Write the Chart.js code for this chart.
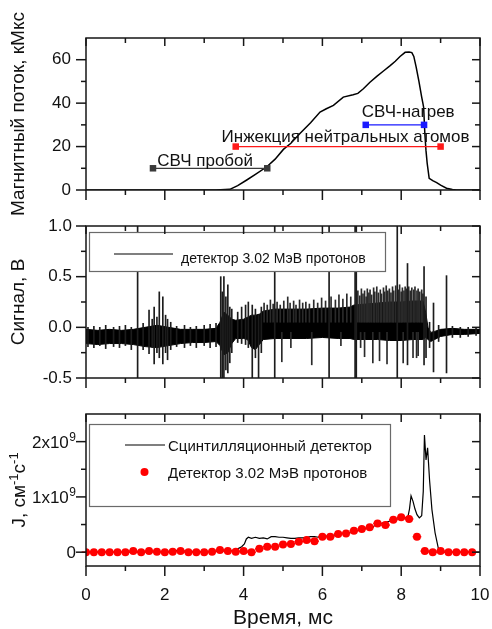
<!DOCTYPE html>
<html><head><meta charset="utf-8">
<script src="https://cdn.jsdelivr.net/npm/chart.js@4.4.1/dist/chart.umd.min.js"></script>
<style>
html,body{margin:0;padding:0;background:#fff;overflow:hidden;}
#wrap{position:relative;width:492px;height:629px;overflow:hidden;background:#fff;}
canvas{position:absolute;left:0;display:block;}
</style></head><body>
<div id="wrap">
<canvas id="c1" width="492" height="228" style="top:0;width:492px;height:228px"></canvas>
<canvas id="c2" width="492" height="190" style="top:210px;width:492px;height:190px"></canvas>
<canvas id="c3" width="492" height="229" style="top:400px;width:492px;height:229px"></canvas>
</div>
<script>
// ---------- DATA ----------
const xTicks = [0, 2, 4, 6, 8, 10];
const xMinorTicks = [1, 3, 5, 7, 9];
const xTickLabels = ['0', '2', '4', '6', '8', '10'];
const xTitle = 'Время, мс';

// Panel 1: magnetic flux, kMx
const fluxT = [0, 3.3, 3.65, 3.85, 4.08, 4.3, 4.59, 4.8, 5.01, 5.2, 5.43, 5.7, 5.94, 6.1, 6.28, 6.53, 6.78, 6.9, 7.04, 7.2, 7.38, 7.55, 7.72, 7.85, 7.97, 8.1, 8.2, 8.27, 8.32, 8.38, 8.45, 8.52, 8.55, 8.57, 8.6, 8.63, 8.66, 8.71, 8.8, 8.9, 9.0, 9.15, 9.3, 9.4, 10];
const fluxV = [0, 0, 0.3, 2.0, 4.6, 7.2, 10.7, 14.2, 18.7, 21.5, 26, 31, 35.9, 37.4, 39, 42.8, 43.9, 44.5, 46.6, 49.5, 52.3, 54.8, 57.3, 59.3, 61.5, 63.4, 63.6, 63.3, 61.5, 56.6, 50, 42.8, 40, 38, 26, 18, 12.2, 5.4, 4.3, 3.4, 2.2, 0.8, 0.2, 0, 0];
const fluxTicks = [0, 20, 40, 60];
const fluxMinorTicks = [10, 30, 50];
const fluxTickLabels = ['0', '20', '40', '60'];
const fluxTitle = 'Магнитный поток, кМкс';
const intervalNames = ['СВЧ пробой', 'Инжекция нейтральных атомов', 'СВЧ-нагрев'];
const intervalStart = [1.7, 3.8, 7.1];
const intervalEnd = [4.6, 9.0, 8.58];
const intervalLevel = [10, 20, 30];

// Panel 2: detector signal, V — dense envelope of the noise
const sigT  = [0, 0.3, 0.6, 0.9, 1.2, 1.5, 1.8, 2.1, 2.4, 2.7, 3.0, 3.3, 3.4, 3.5, 3.6, 3.7, 3.8, 4.0, 4.1, 4.2, 4.3, 4.4, 4.5, 4.8, 5.2, 5.6, 6.0, 6.4, 6.7, 6.8, 7.1, 7.4, 7.7, 8.0, 8.3, 8.55, 8.62, 8.68, 8.75, 8.85, 9.0, 9.3, 9.6, 10];
const sigHi = [-0.02, -0.03, -0.02, -0.03, -0.02, 0.0, 0.02, 0.0, -0.02, -0.02, -0.02, -0.01, 0.05, 0.15, 0.12, 0.08, 0.07, 0.08, 0.1, 0.12, 0.12, 0.13, 0.16, 0.18, 0.18, 0.18, 0.19, 0.19, 0.2, 0.22, 0.23, 0.24, 0.25, 0.25, 0.26, 0.26, 0.15, 0.0, -0.05, -0.04, -0.02, -0.01, -0.02, -0.02];
const sigLo = [-0.16, -0.17, -0.16, -0.16, -0.17, -0.19, -0.2, -0.18, -0.16, -0.15, -0.15, -0.14, -0.18, -0.27, -0.25, -0.16, -0.11, -0.11, -0.12, -0.2, -0.22, -0.17, -0.12, -0.11, -0.11, -0.11, -0.1, -0.11, -0.11, -0.12, -0.12, -0.12, -0.13, -0.13, -0.12, -0.12, -0.1, -0.12, -0.14, -0.12, -0.09, -0.07, -0.07, -0.06];
// bursts (both directions)
const burstT  = [0.05, 0.2, 0.35, 0.5, 0.7, 0.85, 1.0, 1.15, 1.31, 1.45, 1.6, 1.68, 1.73, 1.8, 1.86, 1.95, 2.02, 2.07, 2.15, 2.3, 2.5, 2.65, 2.8, 3.0, 3.15, 3.3, 3.42, 3.46, 3.5, 3.55, 3.6, 3.65, 3.7, 3.85, 3.95, 4.05, 4.12, 4.22, 4.3, 4.38, 4.45, 4.79, 6.17, 6.83, 6.86, 7.9, 8.16, 8.58, 8.63, 8.72, 8.82, 8.95, 9.15, 9.3, 9.5, 9.7, 9.9];
const burstLo = [-0.19, -0.2, -0.18, -0.21, -0.19, -0.2, -0.18, -0.22, -0.5, -0.22, -0.26, -0.2, -0.36, -0.25, -0.3, -0.36, -0.25, -0.32, -0.22, -0.19, -0.2, -0.18, -0.2, -0.18, -0.2, -0.19, -0.5, -0.5, -0.5, -0.42, -0.45, -0.35, -0.25, -0.15, -0.16, -0.17, -0.2, -0.5, -0.3, -0.5, -0.25, -0.5, -0.5, -0.5, -0.5, -0.5, -0.37, -0.37, -0.3, -0.2, -0.44, -0.14, -0.45, -0.1, -0.1, -0.09, -0.08];
const burstHi = [0.0, 0.01, 0.0, 0.02, 0.0, 0.01, 0.02, 0.0, 1.0, 0.04, 0.17, 0.08, 0.2, 0.1, 0.35, 0.3, 0.12, 0.08, 0.05, 0.01, 0.02, 0.0, 0.01, 0.02, 0.03, 0.04, 0.5, 0.35, 0.5, 0.3, 0.42, 0.2, 0.18, 0.15, 0.2, 0.22, 0.25, 0.22, 0.18, 0.12, 0.2, 1.0, 1.0, 1.0, 1.0, 1.0, 0.63, 0.6, 0.3, 0.05, 0.24, 0.02, 0.51, 0.01, 0.0, 0.0, -0.01];
// upward spikes rising out of the dense band
const grassT  = [4.52, 4.6, 4.68, 4.75, 4.85, 4.93, 5.02, 5.12, 5.18, 5.27, 5.33, 5.42, 5.5, 5.58, 5.67, 5.78, 5.88, 5.98, 6.08, 6.22, 6.33, 6.42, 6.52, 6.62, 6.72, 6.9, 6.95, 6.99, 7.03, 7.07, 7.11, 7.14, 7.18, 7.21, 7.25, 7.3, 7.33, 7.38, 7.42, 7.47, 7.5, 7.55, 7.58, 7.62, 7.66, 7.7, 7.74, 7.78, 7.81, 7.86, 7.93, 7.96, 8.0, 8.03, 8.07, 8.1, 8.14, 8.19, 8.23, 8.27, 8.32, 8.35, 8.4, 8.43, 8.47, 8.52, 8.55];
const grassHi = [0.24, 0.22, 0.27, 0.23, 0.25, 0.22, 0.26, 0.3, 0.24, 0.26, 0.22, 0.27, 0.24, 0.25, 0.23, 0.27, 0.24, 0.29, 0.26, 0.3, 0.27, 0.32, 0.28, 0.33, 0.3, 0.36, 0.31, 0.38, 0.33, 0.36, 0.3, 0.38, 0.34, 0.37, 0.32, 0.39, 0.35, 0.4, 0.34, 0.37, 0.33, 0.39, 0.35, 0.41, 0.36, 0.38, 0.34, 0.4, 0.36, 0.41, 0.37, 0.42, 0.35, 0.39, 0.36, 0.4, 0.38, 0.4, 0.36, 0.39, 0.37, 0.4, 0.36, 0.38, 0.35, 0.37, 0.33];
// downward spikes falling out of the dense band
const dipT  = [4.97, 5.2, 5.73, 6.47, 6.97, 7.07, 7.28, 7.45, 7.64, 8.05, 8.3, 8.39, 8.43];
const dipLo = [-0.34, -0.2, -0.37, -0.18, -0.2, -0.29, -0.35, -0.33, -0.36, -0.35, -0.3, -0.3, -0.28];
const sigTicks = [-0.5, 0, 0.5, 1.0];
const sigMinorTicks = [-0.25, 0.25, 0.75];
const sigTickLabels = ['-0.5', '0.0', '0.5', '1.0'];
const sigTitle = 'Сигнал, В';
const sigLegend = 'детектор 3.02 МэВ протонов';

// Panel 3: J, in units of 10^9 cm^-1 s^-1
const scintT = [0, 1.0, 2.0, 2.2, 2.4, 2.5, 2.8, 3.0, 3.4, 3.7, 3.85, 3.95, 4.02, 4.07, 4.12, 4.2, 4.3, 4.4, 4.5, 4.6, 4.7, 4.8, 4.9, 5.0, 5.1, 5.2, 5.3, 5.4, 5.5, 5.6, 5.7, 5.8, 5.9, 6.0, 6.1, 6.2, 6.3, 6.4, 6.5, 6.6, 6.7, 6.8, 6.9, 7.0, 7.1, 7.2, 7.3, 7.4, 7.5, 7.6, 7.7, 7.8, 7.9, 8.0, 8.1, 8.17, 8.21, 8.25, 8.3, 8.35, 8.4, 8.46, 8.52, 8.56, 8.59, 8.63, 8.67, 8.72, 8.78, 8.86, 8.94, 8.98, 10];
const scintV = [0, 0, 0.01, 0.02, 0.04, 0.02, 0.01, 0.01, 0.02, 0.03, 0.06, 0.1, 0.15, 0.24, 0.27, 0.25, 0.27, 0.25, 0.26, 0.24, 0.28, 0.28, 0.27, 0.27, 0.26, 0.25, 0.25, 0.26, 0.26, 0.27, 0.28, 0.28, 0.27, 0.28, 0.29, 0.3, 0.31, 0.33, 0.34, 0.35, 0.36, 0.38, 0.39, 0.41, 0.43, 0.45, 0.47, 0.5, 0.52, 0.54, 0.56, 0.58, 0.6, 0.62, 0.62, 0.64, 0.78, 1.02, 0.92, 0.78, 0.68, 0.62, 0.66, 1.1, 2.12, 1.67, 1.89, 1.3, 0.77, 0.35, 0.08, 0, 0];
const protonT = [0, 0.2, 0.4, 0.6, 0.8, 1.0, 1.2, 1.4, 1.6, 1.8, 2.0, 2.2, 2.4, 2.6, 2.8, 3.0, 3.2, 3.4, 3.6, 3.8, 4.0, 4.2, 4.4, 4.6, 4.8, 5.0, 5.2, 5.4, 5.6, 5.8, 6.0, 6.2, 6.4, 6.6, 6.8, 7.0, 7.2, 7.4, 7.6, 7.8, 8.0, 8.2, 8.4, 8.6, 8.8, 9.0, 9.2, 9.4, 9.6, 9.8];
const protonV = [0, 0, 0, 0, 0, 0, 0.02, 0, 0.02, 0.01, 0, 0.01, 0.02, 0, 0, 0, 0.01, 0.04, 0.02, 0.01, 0.02, 0, 0.06, 0.1, 0.1, 0.14, 0.15, 0.19, 0.22, 0.2, 0.28, 0.28, 0.33, 0.34, 0.39, 0.42, 0.45, 0.52, 0.49, 0.585, 0.63, 0.6, 0.28, 0.02, 0, 0.02, 0, 0, 0, 0];
const protonTErr = 0.11;
const jTicks = [0, 1, 2];
const jMinorTicks = [0.5, 1.5];
const jTickBase = ['0', '1x10', '2x10'];
const jTickExp = ['', '9', '9'];
const jTitleParts = ['J, см', '-1', 'с', '-1'];   // even index: normal text, odd index: superscript
const jLegend = ['Сцинтилляционный детектор', 'Детектор 3.02 МэВ протонов'];

// ---------- RENDERING ----------
const FONT = "'Liberation Sans', Arial, Helvetica, sans-serif";
Chart.defaults.font.family = FONT;
Chart.defaults.color = '#111';
const pts = (xs, ys) => xs.map((x, i) => ({x: x, y: ys[i]}));

const frameTicks = {
  id: 'frameTicks',
  afterDraw(chart, args, o) {
    const {ctx, chartArea: a, scales} = chart;
    const sx = scales.x, sy = scales.y;
    ctx.save();
    ctx.strokeStyle = '#161616';
    ctx.lineWidth = 1.5;
    const seg = (x1, y1, x2, y2) => { ctx.beginPath(); ctx.moveTo(x1, y1); ctx.lineTo(x2, y2); ctx.stroke(); };
    ctx.strokeRect(a.left, a.top, a.right - a.left, a.bottom - a.top);
    o.xMajor.forEach(v => { const p = sx.getPixelForValue(v); seg(p, a.bottom, p, a.bottom + 10); seg(p, a.top, p, a.top + 8); });
    o.xMinor.forEach(v => { const p = sx.getPixelForValue(v); seg(p, a.bottom, p, a.bottom + 5); seg(p, a.top, p, a.top + 5); });
    o.yMajor.forEach(v => { const p = sy.getPixelForValue(v); seg(a.left - 10, p, a.left, p); seg(a.right - 8, p, a.right, p); });
    o.yMinor.forEach(v => { const p = sy.getPixelForValue(v); seg(a.left - 5, p, a.left, p); seg(a.right - 5, p, a.right, p); });
    ctx.restore();
  }
};

const legendBox = {
  id: 'legendBox',
  afterDatasetsDraw(chart, args, o) {
    if (!o || !o.box) return;
    const ctx = chart.ctx;
    const [l, t, r, b] = o.box;
    ctx.save();
    ctx.fillStyle = '#fff';
    ctx.fillRect(l, t, r - l, b - t);
    ctx.strokeStyle = '#6a6a6a';
    ctx.lineWidth = 1.2;
    ctx.strokeRect(l, t, r - l, b - t);
    o.items.forEach(it => {
      if (it.kind === 'line') {
        ctx.strokeStyle = '#000'; ctx.lineWidth = 1.2;
        ctx.beginPath(); ctx.moveTo(it.x1, it.y); ctx.lineTo(it.x2, it.y); ctx.stroke();
      } else {
        ctx.fillStyle = '#ff0000';
        ctx.beginPath(); ctx.arc(it.cx, it.y, 4, 0, Math.PI * 2); ctx.fill();
      }
      ctx.fillStyle = '#111';
      ctx.font = it.size + 'px ' + FONT;
      ctx.textBaseline = 'alphabetic';
      ctx.textAlign = 'left';
      ctx.fillText(it.text, it.tx, it.ty);
    });
    ctx.restore();
  }
};

const intervalLabels = {
  id: 'intervalLabels',
  afterDatasetsDraw(chart, args, o) {
    if (!o || !o.items) return;
    const ctx = chart.ctx, sx = chart.scales.x, sy = chart.scales.y;
    ctx.save();
    ctx.fillStyle = '#111';
    ctx.font = '17px ' + FONT;
    ctx.textBaseline = 'alphabetic';
    o.items.forEach(it => ctx.fillText(it.text, sx.getPixelForValue(it.x), sy.getPixelForValue(it.y)));
    ctx.restore();
  }
};

const errorBars = {
  id: 'errorBars',
  afterDatasetsDraw(chart, args, o) {
    if (!o || !o.on) return;
    const ctx = chart.ctx, sx = chart.scales.x, sy = chart.scales.y;
    ctx.save();
    ctx.strokeStyle = '#ff0000'; ctx.lineWidth = 1.5;
    protonT.forEach((t, i) => {
      const y = sy.getPixelForValue(protonV[i]);
      ctx.beginPath();
      ctx.moveTo(sx.getPixelForValue(t - protonTErr), y);
      ctx.lineTo(sx.getPixelForValue(t + protonTErr), y);
      ctx.stroke();
    });
    ctx.restore();
  }
};

// tick labels with superscript exponent and the J axis title (panel 3)
const supLabels = {
  id: 'supLabels',
  afterDraw(chart, args, o) {
    if (!o || !o.on) return;
    const ctx = chart.ctx, sy = chart.scales.y, a = chart.chartArea;
    ctx.save();
    ctx.fillStyle = '#111';
    ctx.textBaseline = 'alphabetic';
    ctx.textAlign = 'right';
    jTicks.forEach((v, i) => {
      const p = sy.getPixelForValue(v);
      let x = 76;
      if (jTickExp[i]) {
        ctx.font = '12px ' + FONT;
        ctx.fillText(jTickExp[i], x, p - 1);
        x -= ctx.measureText(jTickExp[i]).width + 0.5;
      }
      ctx.font = '17px ' + FONT;
      ctx.fillText(jTickBase[i], x, p + 6);
    });
    ctx.translate(25, (a.top + a.bottom) / 2);
    ctx.rotate(-Math.PI / 2);
    ctx.textAlign = 'left';
    const fs = i => (i % 2 ? 13 : 19);
    let total = 0;
    jTitleParts.forEach((s, i) => { ctx.font = fs(i) + 'px ' + FONT; total += ctx.measureText(s).width; });
    let x = -total / 2;
    jTitleParts.forEach((s, i) => {
      ctx.font = fs(i) + 'px ' + FONT;
      ctx.fillText(s, x, i % 2 ? -7 : 0);
      x += ctx.measureText(s).width;
    });
    ctx.restore();
  }
};

function makeOptions(c) {
  return {
    responsive: false, maintainAspectRatio: false, animation: false, events: [], devicePixelRatio: 1,
    layout: {padding: {left: 0, right: 12, top: c.padTop, bottom: 0}},
    plugins: {
      legend: {display: false}, tooltip: {enabled: false},
      frameTicks: {xMajor: xTicks, xMinor: xMinorTicks, yMajor: c.yMajor, yMinor: c.yMinor},
      legendBox: c.legend || {},
      intervalLabels: c.labels || {},
      errorBars: {on: !!c.err},
      supLabels: {on: !!c.sup}
    },
    scales: {
      x: {
        type: 'linear', min: 0, max: 10, offset: false,
        grid: {display: false, drawTicks: false}, border: {display: false},
        afterBuildTicks: s => { s.ticks = xTicks.map(v => ({value: v})); },
        afterFit: s => { s.height = c.xH; s.paddingLeft = 0; s.paddingRight = 0; s.paddingTop = 0; s.paddingBottom = 0; },
        ticks: {display: c.showX, font: {size: 17}, padding: 19, color: '#111', maxRotation: 0, autoSkip: false,
                callback: (v, i) => xTickLabels[i]},
        title: {display: c.showX, text: xTitle, font: {size: 21, lineHeight: 1.0}, padding: {top: 0, bottom: 0}, color: '#111'}
      },
      y: {
        type: 'linear', min: c.yMin, max: c.yMax,
        grid: {display: false, drawTicks: false}, border: {display: false},
        afterBuildTicks: s => { s.ticks = c.yMajor.map(v => ({value: v})); },
        afterFit: s => { s.width = 86; s.paddingLeft = 0; s.paddingRight = 0; s.paddingTop = 0; s.paddingBottom = 0; },
        ticks: {display: !c.sup, font: {size: 17}, padding: c.yPad, color: '#111', autoSkip: false,
                callback: (v, i) => (c.yLabels ? c.yLabels[i] : '')},
        title: {display: !c.sup, text: c.yTitle || '', font: {size: 19}, padding: {top: 7, bottom: 0}, color: '#111'}
      }
    }
  };
}

const intervalColors = ['#3a3a3a', '#ff1a1a', '#1a1aff'];

new Chart(document.getElementById('c1'), {
  type: 'line',
  data: {datasets: [
    {data: pts(fluxT, fluxV), borderColor: '#000', borderWidth: 1.5, pointRadius: 0, tension: 0, order: 2},
    ...intervalNames.map((n, i) => ({
      data: [{x: intervalStart[i], y: intervalLevel[i]}, {x: intervalEnd[i], y: intervalLevel[i]}],
      borderColor: intervalColors[i], backgroundColor: intervalColors[i], borderWidth: 1.2,
      pointStyle: 'rect', pointRadius: 4.6, pointBorderWidth: 0, order: 1
    }))
  ]},
  options: makeOptions({padTop: 38, xH: 38, showX: false, yMin: 0, yMax: 70, yMajor: fluxTicks, yMinor: fluxMinorTicks,
    yLabels: fluxTickLabels, yPad: 15, yTitle: fluxTitle,
    labels: {items: [
      {text: intervalNames[0], x: 1.81, y: 11.0},
      {text: intervalNames[1], x: 3.44, y: 22.2},
      {text: intervalNames[2], x: 7.0, y: 33.6}
    ]}}),
  plugins: [frameTicks, legendBox, intervalLabels]
});

new Chart(document.getElementById('c2'), {
  type: 'line',
  data: {datasets: [
    {data: pts(sigT, sigHi), borderColor: '#000', borderWidth: 1, backgroundColor: '#000', fill: '+1', pointRadius: 0, tension: 0, order: 3},
    {data: pts(sigT, sigLo), borderColor: '#000', borderWidth: 1, fill: false, pointRadius: 0, tension: 0, order: 3},
    {type: 'bar', data: burstT.map((t, i) => ({x: t, y: [burstLo[i], burstHi[i]]})), backgroundColor: '#1c1c1c',
     borderWidth: 0, barThickness: 1, grouped: false, order: 1},
    {type: 'bar', data: grassT.map((t, i) => ({x: t, y: [0.05, grassHi[i]]})), backgroundColor: '#2a2a2a',
     borderWidth: 0, barThickness: 1, grouped: false, order: 1},
    {type: 'bar', data: dipT.map((t, i) => ({x: t, y: [dipLo[i], -0.05]})), backgroundColor: '#2a2a2a',
     borderWidth: 0, barThickness: 1, grouped: false, order: 1}
  ]},
  options: makeOptions({padTop: 16, xH: 22, showX: false, yMin: -0.5, yMax: 1.0, yMajor: sigTicks, yMinor: sigMinorTicks,
    yLabels: sigTickLabels, yPad: 14, yTitle: sigTitle,
    legend: {box: [89.5, 22.5, 385.5, 61.5], items: [
      {kind: 'line', x1: 114, x2: 173, y: 44, text: sigLegend, tx: 181, ty: 53, size: 14}
    ]}}),
  plugins: [frameTicks, legendBox]
});

new Chart(document.getElementById('c3'), {
  type: 'line',
  data: {datasets: [
    {data: pts(scintT, scintV), borderColor: '#000', borderWidth: 1.2, pointRadius: 0, tension: 0, order: 2},
    {data: pts(protonT, protonV), showLine: false, pointRadius: 4, pointBackgroundColor: '#ff0000', pointBorderWidth: 0, order: 1}
  ]},
  options: makeOptions({padTop: 14, xH: 63, showX: true, yMin: -0.25, yMax: 2.5, yMajor: jTicks, yMinor: jMinorTicks,
    yPad: 10, err: true, sup: true,
    legend: {box: [89.5, 24.5, 390.5, 106.5], items: [
      {kind: 'line', x1: 125, x2: 165, y: 45, text: jLegend[0], tx: 168, ty: 51, size: 15},
      {kind: 'dot', cx: 144.5, y: 72, text: jLegend[1], tx: 168, ty: 78, size: 15}
    ]}}),
  plugins: [frameTicks, legendBox, errorBars, supLabels]
});
</script>
</body></html>
